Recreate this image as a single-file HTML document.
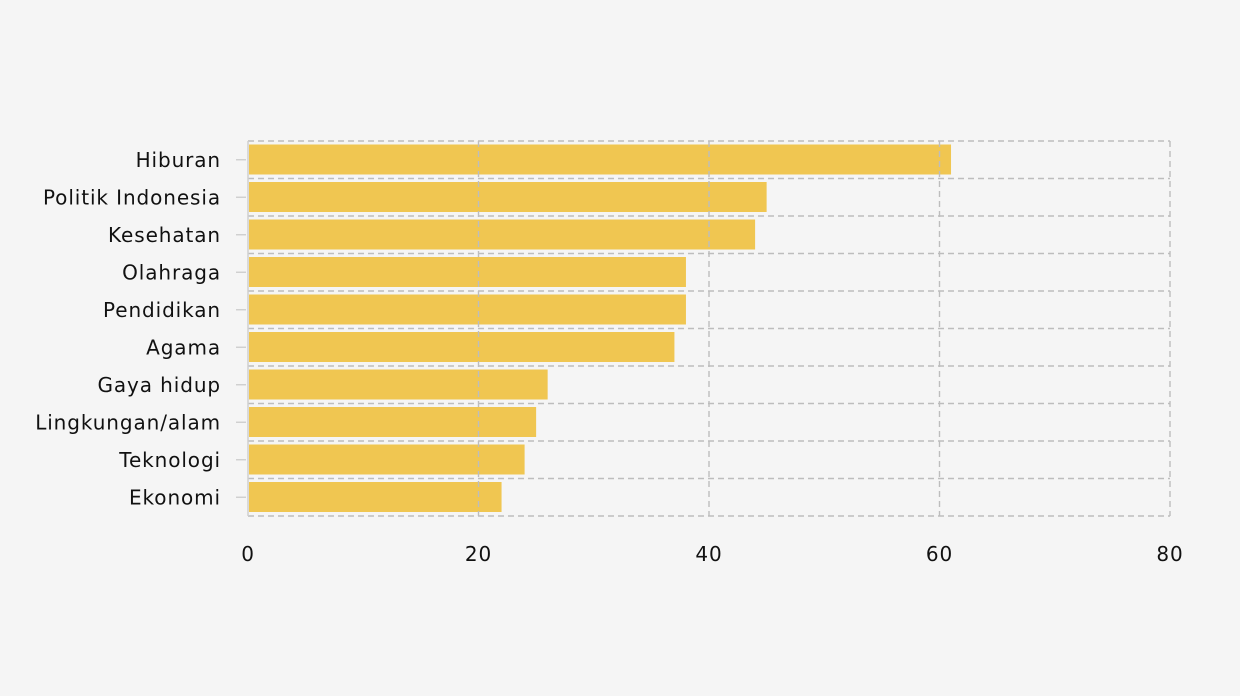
<!DOCTYPE html>
<html><head><meta charset="utf-8"><style>
html,body{margin:0;padding:0;background:#f5f5f5;}
svg{display:block;font-family:"DejaVu Sans","Liberation Sans",sans-serif;}
</style></head><body>
<svg id="chart" width="1240" height="696"></svg>
<script>
const categories=["Hiburan","Politik Indonesia","Kesehatan","Olahraga","Pendidikan","Agama","Gaya hidup","Lingkungan/alam","Teknologi","Ekonomi"];
const values=[61,45,44,38,38,37,26,25,24,22];
const xTicks=[0,20,40,60,80];
const NS="http://www.w3.org/2000/svg";
const svg=document.getElementById('chart');
const L=248,R=1170,T=141,B=516;
const x=v=>L+(v-0)/(80-0)*(R-L);
const band=(B-T)/categories.length;
const y=i=>T+i*band;
function mk(tag,attrs,parent){const e=document.createElementNS(NS,tag);for(const k in attrs)e.setAttribute(k,attrs[k]);(parent||svg).appendChild(e);return e;}
categories.forEach((c,i)=>{
 const r=mk('rect',{x:x(0)+1,y:y(i)+3.5,width:x(values[i])-x(0)-1,height:band-7.5,fill:'#f0c651'});
 
 
});
const grid=mk('g',{stroke:'#bdbdbd','stroke-width':1.4,'stroke-dasharray':'6,4',fill:'none'});


for(let i=0;i<=categories.length;i++){mk('line',{x1:L,x2:R,y1:y(i),y2:y(i)},grid);}
xTicks.forEach(t=>{if(t>0)mk('line',{x1:x(t),x2:x(t),y1:T,y2:B},grid);});
const ax=mk('line',{x1:L,x2:L,y1:T,y2:B,stroke:'#d0d0d0','stroke-width':1.5});


categories.forEach((c,i)=>{
 const cy=y(i)+band/2;
 const tk=mk('line',{x1:236,x2:246,y1:cy,y2:cy,stroke:'#cccccc','stroke-width':1.3});
 
 
 const t=mk('text',{x:221,y:cy+7,'text-anchor':'end','font-size':20,'letter-spacing':0.9,fill:'#111'});
 t.textContent=c;
 
 
});
xTicks.forEach(v=>{
 const t=mk('text',{x:x(v),y:561,'text-anchor':'middle','font-size':20,'letter-spacing':0.9,fill:'#111'});
 t.textContent=v;
 
 
});
</script>
</body></html>
